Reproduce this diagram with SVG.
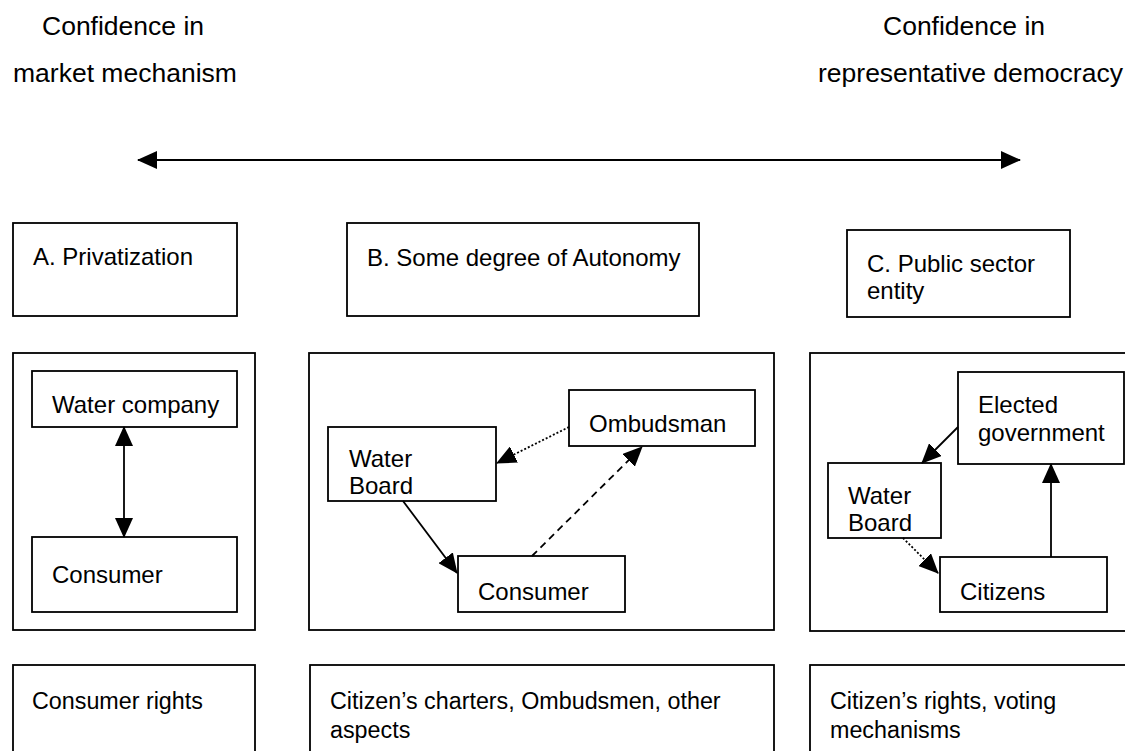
<svg xmlns="http://www.w3.org/2000/svg" width="1125" height="751" viewBox="0 0 1125 751">
<style>
text{font-family:"Liberation Sans",Arial,sans-serif;font-size:24px;fill:#000}
.top{font-size:26.5px}
.ft{font-size:23.3px}
.box{fill:#fff;stroke:#000;stroke-width:1.8}
.ln{fill:none;stroke:#000;stroke-width:1.8}
.dot{stroke-dasharray:2 2}
.dash{stroke-dasharray:7 5}
</style>
<defs>
<marker id="ah" markerUnits="userSpaceOnUse" markerWidth="20" markerHeight="18" refX="19" refY="9" orient="auto-start-reverse" viewBox="0 0 20 18">
<path d="M0,0 L20,9 L0,18 Z" fill="#000"/>
</marker>
</defs>
<rect width="1125" height="751" fill="#fff"/>
<g id="label-left">
<text class="top" x="42" y="35">Confidence in</text>
<text class="top" x="13" y="82">market mechanism</text>
</g>
<g id="label-right">
<text class="top" x="883" y="35">Confidence in</text>
<text class="top" x="818" y="82">representative democracy</text>
</g>
<g id="head-a"><rect class="box" x="13" y="223" width="224" height="93"/><text x="33" y="265">A. Privatization</text></g>
<g id="head-b"><rect class="box" x="347" y="223" width="352" height="93"/><text x="367" y="266">B. Some degree of Autonomy</text></g>
<g id="head-c"><rect class="box" x="847" y="230" width="223" height="87"/><text x="867" y="272">C. Public sector</text><text x="867" y="299">entity</text></g>
<g id="panel-a"><rect class="box" x="13" y="353" width="242" height="277"/></g>
<g id="panel-b"><rect class="box" x="309" y="353" width="465" height="277"/></g>
<g id="panel-c"><rect class="box" x="810" y="353" width="400" height="278"/></g>
<g id="a-water-company"><rect class="box" x="32" y="371" width="205" height="56"/><text x="52" y="413">Water company</text></g>
<g id="a-consumer"><rect class="box" x="32" y="537" width="205" height="75"/><text x="52" y="583">Consumer</text></g>
<g id="b-ombudsman"><rect class="box" x="569" y="390" width="186" height="56"/><text x="589" y="432">Ombudsman</text></g>
<g id="b-water-board"><rect class="box" x="328" y="427" width="168" height="74"/><text x="349" y="467">Water</text><text x="349" y="494">Board</text></g>
<g id="b-consumer"><rect class="box" x="458" y="556" width="167" height="56"/><text x="478" y="600">Consumer</text></g>
<g id="c-elected"><rect class="box" x="958" y="372" width="166" height="92"/><text x="978" y="413">Elected</text><text x="978" y="441">government</text></g>
<g id="c-water-board"><rect class="box" x="828" y="463" width="113" height="75"/><text x="848" y="504">Water</text><text x="848" y="531">Board</text></g>
<g id="c-citizens"><rect class="box" x="940" y="557" width="167" height="55"/><text x="960" y="600">Citizens</text></g>
<g id="foot-a"><rect class="box" x="13" y="665" width="242" height="100"/><text class="ft" x="32" y="709">Consumer rights</text></g>
<g id="foot-b"><rect class="box" x="310" y="665" width="464" height="100"/><text class="ft" x="330" y="709">Citizen’s charters, Ombudsmen, other</text><text class="ft" x="330" y="738">aspects</text></g>
<g id="foot-c"><rect class="box" x="810" y="665" width="400" height="100"/><text class="ft" x="830" y="709">Citizen’s rights, voting</text><text class="ft" x="830" y="738">mechanisms</text></g>
<g id="connectors">
<line class="ln" x1="138" y1="160" x2="1020" y2="160" marker-start="url(#ah)" marker-end="url(#ah)"/>
<line class="ln" x1="124" y1="427" x2="124" y2="537" marker-start="url(#ah)" marker-end="url(#ah)"/>
<line class="ln dot" x1="569" y1="427" x2="497" y2="463" marker-end="url(#ah)"/>
<line class="ln dash" x1="532" y1="556" x2="642" y2="447" marker-end="url(#ah)"/>
<line class="ln" x1="403" y1="501" x2="457" y2="573" marker-end="url(#ah)"/>
<line class="ln" x1="958" y1="427" x2="922" y2="463" marker-end="url(#ah)"/>
<line class="ln" x1="1051" y1="557" x2="1051" y2="464" marker-end="url(#ah)"/>
<line class="ln dot" x1="903" y1="538" x2="938" y2="573" marker-end="url(#ah)"/>
</g>
</svg>
